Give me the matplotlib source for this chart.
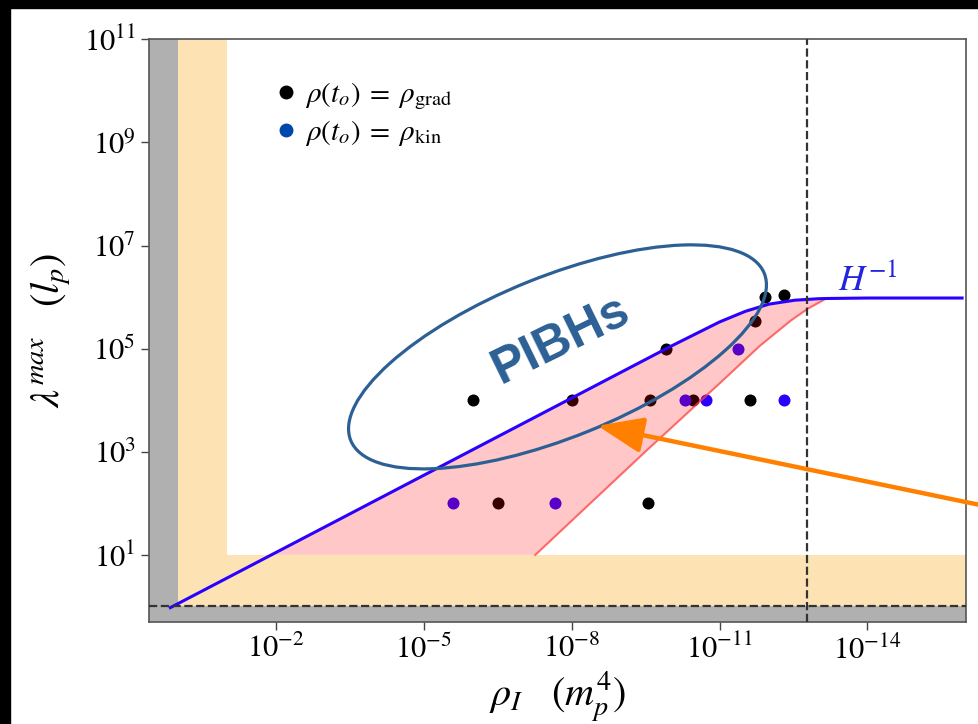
import numpy as np
import matplotlib.pyplot as plt
from matplotlib.patches import Ellipse, Rectangle
from matplotlib.lines import Line2D
from matplotlib.transforms import ScaledTranslation

plt.rcParams['font.family'] = 'STIXGeneral'
plt.rcParams['mathtext.fontset'] = 'stix'

# =========================
# data
# =========================
# Hubble radius curve H^-1
h_inv_rho = [1.4, 1e-10, 1e-11, 3e-12, 1e-12, 3e-13, 1e-13, 7e-14, 1e-14, 1.2e-16]
h_inv_lam = [0.95, 1.1e5, 3.3e5, 5.3e5, 7.3e5, 8.7e5, 9.3e5, 9.4e5, 9.6e5, 9.6e5]

# lower (red) edge of the shaded band
red_rho = [5.5e-8, 3.0e-10, 8.7e-12, 1.5e-12, 3.6e-13, 1.65e-13, 7e-14]
red_lam = [10, 1.07e3, 2.4e4, 1.15e5, 3.5e5, 5.9e5, 9.3e5]

# where H^-1 crosses lambda = 10
band_start_rho = 1.3e-2
band_floor = 10

# rho(t_o) = rho_grad
grad_rho = [1e-6, 1e-8, 2.6e-10, 3.4e-11, 2.4e-12, 3.1e-7, 2.8e-10, 1.2e-10, 1.9e-12, 1.2e-12, 5e-13]
grad_lam = [1e4, 1e4, 1e4, 1e4, 1e4, 1e2, 1e2, 1e5, 3.5e5, 1e6, 1.1e6]

# rho(t_o) = rho_kin
kin_rho = [2.6e-6, 2.2e-8, 5e-11, 1.9e-11, 4.2e-12, 5e-13]
kin_lam = [1e2, 1e2, 1e4, 1e4, 1e5, 1e4]

rho_vline = 1.65e-13
lam_hline = 1.0

x_ticks = [1e-2, 1e-5, 1e-8, 1e-11, 1e-14]
y_ticks = [1e1, 1e3, 1e5, 1e7, 1e9, 1e11]
x_lim = (3.8, 1e-16)
y_lim = (0.5, 1e11)

# =========================
# figure
# =========================
fig = plt.figure(figsize=(9.79, 7.24), dpi=100)
ax = fig.add_axes([0.1522, 0.1409, 0.8345, 0.8048])

# black strips on the edges of the picture
fig.patches.append(Rectangle((0, 0), 10 / 979, 1, transform=fig.transFigure, color='black', zorder=-5))
fig.patches.append(Rectangle((0, 1 - 8 / 724), 1, 8 / 724, transform=fig.transFigure, color='black', zorder=-5))

ax.set_xscale('log')
ax.set_yscale('log')
ax.set_xlim(x_lim)
ax.set_ylim(y_lim)

# excluded regions
orange = '#fde3b3'
gray = '#b0b0b0'
ax.axvspan(1.0, 0.1, ymin=0, ymax=1, color=orange, lw=0, zorder=0)
ax.axhspan(lam_hline, band_floor, color=orange, lw=0, zorder=0)
ax.axvspan(x_lim[0], 1.0, color=gray, lw=0, zorder=0.5)
ax.axhspan(y_lim[0], lam_hline, color=gray, lw=0, zorder=0.5)

# points
ax.scatter(grad_rho, grad_lam, s=75, color='black', zorder=2, lw=0)
ax.scatter(kin_rho, kin_lam, s=75, color='#2a00ff', zorder=2, lw=0)

# shaded band between H^-1 and the red edge
h_rho = np.array(h_inv_rho)
h_lam = np.array(h_inv_lam)
m = (h_rho < band_start_rho) & (h_rho > red_rho[-1])
pink_x = [band_start_rho] + list(h_rho[m]) + red_rho[::-1]
pink_y = [band_floor] + list(h_lam[m]) + red_lam[::-1]
ax.fill(pink_x, pink_y, color='red', alpha=0.22, lw=0, zorder=3)
ax.plot(red_rho, red_lam, color='#ff4040', lw=1.5, alpha=0.75, zorder=3.5)

ax.plot(h_inv_rho, h_inv_lam, color='#2a00ff', lw=2.2, zorder=4)
ax.text(1e-14, 1.4e6, r'$H^{-1}$', color='#2424e0', fontsize=26, ha='center', va='baseline')

ax.axvline(rho_vline, color='#333333', ls='--', lw=1.6, zorder=5)
ax.axhline(lam_hline, color='#333333', ls='--', lw=1.6, zorder=5)

# ticks / labels
ax.set_xticks(x_ticks)
ax.set_yticks(y_ticks)
ax.minorticks_off()
ax.tick_params(labelsize=22, length=6, width=1, color='#444444', direction='out')
for s in ax.spines.values():
    s.set_color('#555555')
    s.set_linewidth(1.2)

ax.set_xlabel(r'$\rho_I \quad (m_p^4)$', fontsize=29, labelpad=3)
ax.set_ylabel(r'$\lambda^{max} \quad (l_p)$', fontsize=29, labelpad=8)

# legend
handles = [Line2D([], [], marker='o', ls='', color='black', markersize=9),
           Line2D([], [], marker='o', ls='', color='#0047ab', markersize=9)]
labels = [r'$\rho(t_o)\;=\;\rho_{\rm grad}$', r'$\rho(t_o)\;=\;\rho_{\rm kin}$']
ax.legend(handles, labels, loc='upper left', bbox_to_anchor=(0.132, 0.954), frameon=False,
          fontsize=21, borderpad=0, handlelength=1.0, handletextpad=0.15, labelspacing=0.2)

# PIBHs ellipse
ell_trans = fig.dpi_scale_trans + ScaledTranslation(0.5, 0.455, ax.transAxes)
ax.add_patch(Ellipse((0, 0), 4.46, 1.61, angle=22, transform=ell_trans, fill=False,
                     edgecolor='#2c6095', lw=2.3, zorder=6, clip_on=False))
ax.text(0.504, 0.484, 'PIBHs', transform=ax.transAxes, rotation=26, ha='center', va='center',
        fontsize=36, fontweight='bold', family='Liberation Sans', color='#2c6095',
        rotation_mode='anchor', zorder=6)

# orange arrow
ax.annotate('', xy=(3e-9, 3.2e3), xycoords='data', xytext=(1.02, 0.2), textcoords='axes fraction',
            arrowprops=dict(arrowstyle='-|>,head_length=1.4,head_width=0.55', color='#ff8000',
                            lw=3.2, mutation_scale=20, shrinkA=0, shrinkB=0),
            annotation_clip=False, zorder=7)

fig.savefig('out.png', dpi=100)
